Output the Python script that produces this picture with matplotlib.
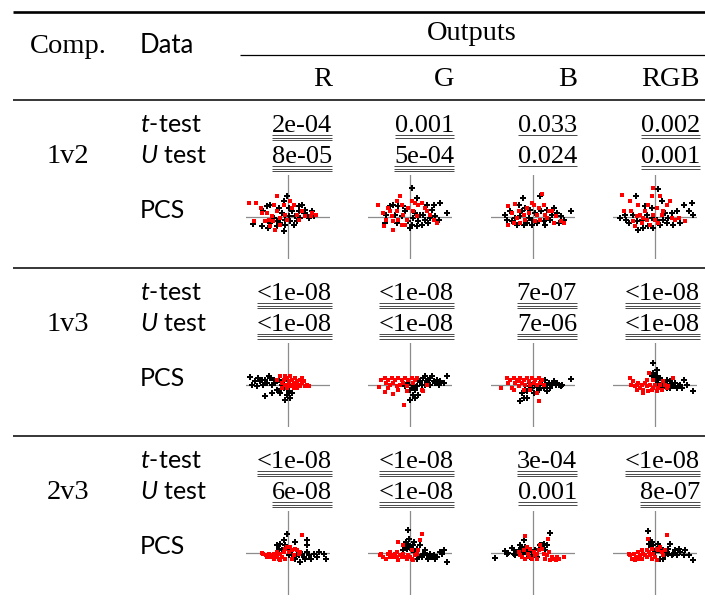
"""
Comparison table: t-test / U test p-values per colour channel, plus PCS scatter thumbnails.
"""

import matplotlib

matplotlib.use("Agg")
import matplotlib.pyplot as plt
import numpy as np
from matplotlib.lines import Line2D

plt.rcParams["mathtext.fontset"] = "custom"
plt.rcParams["mathtext.it"] = "Lato:italic"
plt.rcParams["mathtext.rm"] = "Lato"

W, H = 705, 601
SERIF = "Liberation Serif"
SANS = "Lato"

# ---- table content ----
comparisons = ["1v2", "1v3", "2v3"]
outputs = ["R", "G", "B", "RGB"]
data_labels = ["$t$-test", "$U$ test", "PCS"]

t_test = [
    ["2e-04", "0.001", "0.033", "0.002"],
    ["<1e-08", "<1e-08", "7e-07", "<1e-08"],
    ["<1e-08", "<1e-08", "3e-04", "<1e-08"],
]
u_test = [
    ["8e-05", "5e-04", "0.024", "0.001"],
    ["<1e-08", "<1e-08", "7e-06", "<1e-08"],
    ["6e-08", "<1e-08", "0.001", "8e-07"],
]
# number of underlines = significance level
t_level = [[3, 2, 1, 2], [3, 3, 3, 3], [3, 3, 3, 3]]
u_level = [[3, 3, 1, 2], [3, 3, 3, 3], [3, 3, 2, 3]]

# ---- PCS scatter points (first two components, class a = red, class b = black) ----
pcs_1v2_R_red = [(-115,42),(-95,42),(-33,62),(-80,27),(-101,-11),(-63,12),(-48,2),(-45,-13),(-55,-28),(-38,-38),
                 (-23,-3),(-8,7),(7,47),(17,37),(27,7),(42,17),(72,12),(82,7),(-68,-13),(-33,17),(-3,-8),(12,27),
                 (32,-8),(52,2),(-13,37),(-43,37),(67,2),(-78,12),(-58,-8),(-23,-23)]
pcs_1v2_R_blk = [(-105,-21),(-78,-28),(-73,17),(-63,32),(-53,37),(-28,27),(-13,47),(-3,62),(2,27),(12,17),(22,2),
                 (32,32),(42,37),(52,22),(57,7),(62,-3),(27,-13),(7,-13),(-8,-23),(-13,-43),(-23,-18),(-33,-13),
                 (-43,-3),(17,-23),(37,-3),(47,12),(72,17),(77,2),(2,2),(-18,12),(-53,-18),(-61,-33),(32,17),
                 (-8,-8),(-33,-28)]
pcs_1v2_G_red = [(-95,37),(-80,12),(-78,-28),(-65,27),(-55,2),(-50,-13),(-52,-38),(-40,17),(-35,-8),(-30,62),
                 (-25,37),(-20,7),(-15,-23),(-5,27),(5,47),(15,42),(25,37),(35,42),(45,27),(50,17),(60,7),(70,-8),
                 (80,-18),(-40,47),(-10,-8),(10,17),(-60,17),(-70,-8),(-25,-23),(20,2)]
pcs_1v2_G_blk = [(-75,-18),(-70,7),(-60,32),(-45,7),(-35,32),(-25,2),(-15,17),(-5,-13),(5,87),(5,-23),(10,-3),
                 (15,12),(20,57),(25,-13),(30,7),(35,-23),(45,-8),(50,37),(55,-18),(60,-3),(65,22),(70,37),(75,2),
                 (85,-8),(90,42),(110,12),(-20,32),(0,-33),(40,7),(-40,-18),(-50,37),(20,-28)]
pcs_1v2_B_red = [(-75,32),(-73,-23),(-63,12),(-53,39),(-48,-3),(-38,-18),(-28,7),(-18,27),(-3,42),(2,37),(12,7),
                 (17,27),(27,67),(32,37),(37,7),(47,17),(57,17),(67,2),(82,-13),(92,-18),(-23,-8),(-58,-18),
                 (-43,17),(7,-13),(22,-8),(42,-3),(-13,12),(62,-18)]
pcs_1v2_B_blk = [(-83,7),(-78,-8),(-68,17),(-63,-13),(-53,-3),(-43,37),(-38,2),(-33,17),(-31,57),(-23,27),
                 (-18,-18),(-13,-3),(-8,22),(-3,-23),(7,12),(12,-18),(22,62),(24,17),(32,-13),(42,22),(52,-8),
                 (57,7),(62,27),(72,12),(77,-18),(82,2),(92,-8),(112,19),(-48,-23),(-3,-8),(37,-23),(-28,-23)]
pcs_1v2_RGB_red = [(-97,65),(-93,17),(-75,47),(-70,17),(-65,-13),(-60,-28),(-50,37),(-45,7),(-40,-18),(-30,17),
                   (-25,-8),(-20,37),(-10,62),(-7,87),(-5,7),(0,-8),(10,-18),(15,62),(20,7),(25,17),(35,37),
                   (45,47),(50,-3),(60,-8),(70,-3),(90,-13),(-35,-3),(-55,2),(-15,-23),(5,27)]
pcs_1v2_RGB_blk = [(-105,-3),(-90,7),(-85,-8),(-77,-18),(-65,7),(-58,62),(-55,-13),(-50,-38),(-40,-8),(-35,-33),
                   (-25,7),(-20,-28),(-10,-3),(-5,-33),(5,-8),(10,82),(15,-23),(20,47),(25,-8),(30,12),(35,-18),
                   (40,-3),(50,12),(55,-23),(65,17),(75,-18),(85,37),(100,17),(110,42),(113,7),(-10,27),(-30,32)]

pcs_1v3_R_red = [(-33,16),(-23,26),(-18,6),(-13,16),(-8,1),(-3,21),(2,11),(7,26),(12,16),(17,6),(22,21),(27,11),
                 (32,1),(37,16),(42,6),(47,11),(52,-4),(57,1),(62,-4),(-3,-9),(7,-4),(17,-9),(27,-9),(-8,26),
                 (12,1),(37,-4),(2,1),(22,1),(-18,-9),(42,21)]
pcs_1v3_R_blk = [(-113,23),(-108,1),(-98,11),(-93,-2),(-83,11),(-78,16),(-68,16),(-63,6),(-58,26),(-53,21),
                 (-48,1),(-68,-32),(-43,16),(-38,6),(-33,-14),(-28,-19),(-23,-24),(-18,1),(-13,-9),(-8,-44),
                 (-3,-29),(2,-19),(7,-39),(12,-24),(-28,16),(-73,1),(-48,-24),(-13,11),(-88,21),(2,-4)]
pcs_1v3_G_red = [(-92,-6),(-85,16),(-75,21),(-75,-22),(-70,6),(-65,16),(-60,1),(-55,21),(-52,-26),(-50,6),
                 (-45,16),(-40,-4),(-35,21),(-30,1),(-25,16),(-20,6),(-18,-59),(-15,21),(-10,-4),(-5,16),(5,21),
                 (10,6),(15,16),(20,21),(35,-14),(40,-19),(50,1),(-35,-14),(-65,-9),(-10,-19)]
pcs_1v3_G_blk = [(-15,-4),(-10,6),(-5,1),(0,-14),(5,-9),(8,-29),(10,1),(15,-14),(20,-4),(25,16),(30,11),(35,1),
                 (40,21),(45,26),(50,11),(55,16),(60,21),(65,26),(70,11),(75,6),(80,16),(85,1),(90,11),(100,6),
                 (110,26),(15,-39),(0,-44),(25,-29),(60,1),(45,1)]
pcs_1v3_B_red = [(-96,-9),(-78,21),(-73,6),(-68,16),(-63,-9),(-58,21),(-53,6),(-48,16),(-43,-4),(-38,21),(-33,6),
                 (-28,16),(-23,1),(-18,21),(-13,11),(-8,1),(-3,21),(2,6),(7,16),(12,1),(17,21),(17,-47),(22,6),
                 (27,16),(32,1),(-28,-14),(12,-24),(-58,-14),(-8,-14),(-43,11)]
pcs_1v3_B_blk = [(-38,-49),(-33,-24),(-28,-39),(-23,-14),(-18,-19),(-13,-4),(-8,6),(-3,-9),(2,-24),(7,1),(12,-4),
                 (17,-14),(22,1),(27,11),(32,-9),(37,16),(42,-19),(47,6),(52,-9),(57,1),(62,11),(67,1),(72,6),
                 (77,1),(82,-4),(87,1),(112,19),(-18,-39),(42,1),(22,-9)]
pcs_1v3_RGB_red = [(-75,21),(-70,1),(-65,11),(-60,-4),(-55,1),(-50,6),(-45,-9),(-40,1),(-35,-14),(-30,6),(-25,-4),
                   (-20,-19),(-17,36),(-15,1),(-10,-14),(-7,16),(-5,-9),(0,1),(5,-19),(10,-9),(15,1),(20,-14),
                   (25,11),(30,1),(35,-9),(40,-4),(55,21),(-55,-14),(-25,16),(-35,-24)]
pcs_1v3_RGB_blk = [(-7,66),(-5,36),(-3,21),(0,31),(3,16),(5,46),(7,26),(10,6),(15,21),(20,16),(25,-4),(30,6),
                   (35,-9),(40,-4),(45,-9),(50,1),(55,-4),(60,6),(65,-9),(70,-4),(75,1),(85,16),(95,1),(113,-19),
                   (45,11),(20,-9),(-10,26),(35,16),(80,-9),(5,-4)]

pcs_2v3_R_red = [(-78,1),(-73,-2),(-65,-7),(-58,-2),(-53,-12),(-48,-7),(-43,-2),(-38,-12),(-33,-7),(-28,-17),
                 (-23,-2),(-18,-12),(-13,3),(-8,13),(-3,18),(2,3),(12,8),(17,-7),(22,13),(27,8),(32,-2),(37,3),
                 (42,53),(-43,-17),(-23,-22),(-8,-17),(12,-17),(7,18),(-63,-12),(-33,3)]
pcs_2v3_R_blk = [(-33,23),(-28,13),(-23,28),(-18,8),(-13,38),(-8,23),(-3,58),(-1,8),(2,-7),(7,13),(12,-2),
                 (17,-12),(22,-17),(27,-2),(32,-7),(37,-27),(42,-2),(47,-12),(52,-17),(57,38),(57,23),(57,3),
                 (62,-7),(67,-17),(77,-2),(87,-12),(92,3),(107,-2),(112,-17),(22,33)]
pcs_2v3_G_red = [(-90,-7),(-85,-2),(-80,-12),(-70,-17),(-65,-2),(-60,3),(-55,-7),(-50,-12),(-45,-2),(-40,3),
                 (-35,-22),(-35,33),(-30,-7),(-25,-12),(-20,-2),(-15,-12),(-10,-17),(-5,-7),(0,-12),(5,-17),
                 (10,-22),(15,-7),(20,-2),(25,8),(30,38),(35,58),(-40,-12),(-20,23),(-60,-12),(5,8)]
pcs_2v3_G_blk = [(-20,8),(-15,23),(-12,33),(-10,13),(-7,68),(-5,28),(-2,43),(0,18),(5,8),(10,23),(12,33),(15,3),
                 (20,13),(25,-7),(30,23),(35,-12),(40,-2),(45,8),(50,-7),(55,-17),(60,-2),(65,-12),(70,-7),
                 (75,-17),(80,-12),(88,3),(95,-2),(100,8),(110,-27),(20,-17)]
pcs_2v3_B_red = [(-43,3),(-38,-7),(-33,-12),(-28,8),(-25,51),(-23,-17),(-18,18),(-16,-2),(-13,-12),(-8,13),
                 (-3,-17),(2,3),(7,-7),(12,-17),(17,8),(22,23),(27,13),(32,-2),(37,-17),(42,-7),(44,41),(47,3),
                 (52,-22),(57,-12),(62,-17),(67,-22),(72,-12),(77,-17),(92,-12),(12,-2)]
pcs_2v3_B_blk = [(-113,-14),(-83,6),(-78,-2),(-73,1),(-63,16),(-58,-2),(-53,-7),(-48,3),(-43,8),(-38,-2),
                 (-33,13),(-28,3),(-23,18),(-18,-2),(-13,8),(-8,-12),(-3,3),(2,-7),(7,8),(12,-12),(17,13),
                 (22,25),(27,23),(32,28),(37,8),(42,23),(50,60),(-28,38),(-38,23),(-58,8)]
pcs_2v3_RGB_red = [(-77,-2),(-73,-7),(-67,-17),(-63,-2),(-57,-12),(-50,3),(-45,-7),(-40,-17),(-35,-2),(-30,-7),
                   (-25,-12),(-20,43),(-17,3),(-15,-7),(-10,-17),(-5,-2),(0,-12),(5,-22),(10,8),(15,18),(20,3),
                   (25,-7),(30,8),(35,53),(-60,-22),(-40,8),(-10,13),(5,13),(-50,-17),(-25,8)]
pcs_2v3_RGB_blk = [(-20,65),(-17,28),(-15,38),(-12,18),(-10,33),(-7,8),(-5,23),(0,3),(5,13),(10,8),(15,-17),
                   (20,3),(25,8),(30,-7),(35,3),(40,-2),(45,28),(50,-7),(55,-2),(60,8),(65,-7),(70,13),(75,3),
                   (85,-7),(90,8),(100,-7),(113,-20),(25,-17),(40,13),(10,28)]

pcs_red = [
    [pcs_1v2_R_red, pcs_1v2_G_red, pcs_1v2_B_red, pcs_1v2_RGB_red],
    [pcs_1v3_R_red, pcs_1v3_G_red, pcs_1v3_B_red, pcs_1v3_RGB_red],
    [pcs_2v3_R_red, pcs_2v3_G_red, pcs_2v3_B_red, pcs_2v3_RGB_red],
]
pcs_blk = [
    [pcs_1v2_R_blk, pcs_1v2_G_blk, pcs_1v2_B_blk, pcs_1v2_RGB_blk],
    [pcs_1v3_R_blk, pcs_1v3_G_blk, pcs_1v3_B_blk, pcs_1v3_RGB_blk],
    [pcs_2v3_R_blk, pcs_2v3_G_blk, pcs_2v3_B_blk, pcs_2v3_RGB_blk],
]

# ---- layout (pixels from top-left) ----
col_right = [332, 454, 577, 700]
col_center = [288, 410, 533, 655]
ROW_STEP = 168
FS = 19
FS_HEAD = 20.5


def fx(x):
    return x / W


def fy(y):
    return 1 - y / H


def hline(fig, x0, x1, y, lw):
    fig.add_artist(Line2D([fx(x0), fx(x1)], [fy(y), fy(y)], color="black", lw=lw,
                          transform=fig.transFigure, solid_capstyle="butt"))


fig = plt.figure(figsize=(W / 100, H / 100), dpi=100)
renderer = fig.canvas.get_renderer()

# rules
hline(fig, 13, 705, 12, 1.9)
hline(fig, 240, 705, 55, 0.9)
for k in range(3):
    hline(fig, 13, 705, 100 + ROW_STEP * k, 1.1)

# header
fig.text(fx(68), fy(53), "Comp.", family=SERIF, fontsize=FS_HEAD, ha="center", va="baseline")
fig.text(fx(140), fy(53), "Data", family=SANS, fontsize=FS - 0.5, ha="left", va="baseline")
fig.text(fx(472), fy(40), "Outputs", family=SERIF, fontsize=FS_HEAD, ha="center", va="baseline")
for name, xr in zip(outputs, col_right):
    fig.text(fx(xr), fy(86), name, family=SERIF, fontsize=FS_HEAD, ha="right", va="baseline")


def value_cell(txt, xr, base, level):
    t = fig.text(fx(xr), fy(base), txt, family=SERIF, fontsize=FS, ha="right", va="baseline")
    width = t.get_window_extent(renderer).width
    for i in range(level):
        yy = base + 3.0 + 2.5 * i
        hline(fig, xr - width, xr, yy, 0.5)


for k, comp in enumerate(comparisons):
    off = ROW_STEP * k
    fig.text(fx(68), fy(163 + off), comp, family=SERIF, fontsize=FS_HEAD, ha="center", va="baseline")
    for lab, base in zip(data_labels, [132, 163, 218]):
        fig.text(fx(140), fy(base + off), lab, family=SANS, fontsize=FS - 1, ha="left", va="baseline")
    for j in range(4):
        value_cell(t_test[k][j], col_right[j], 132 + off, t_level[k][j])
        value_cell(u_test[k][j], col_right[j], 163 + off, u_level[k][j])

        cx, cy = col_center[j], 217 + off
        ax = fig.add_axes([fx(cx - 42), fy(cy + 42), 84 / W, 84 / H])
        ax.set_xlim(-125, 125)
        ax.set_ylim(-125, 125)
        ax.axis("off")
        ax.axhline(0, color="#8c8c8c", lw=0.9, zorder=1)
        ax.axvline(0, color="#8c8c8c", lw=0.9, zorder=1)
        blk = np.array(pcs_blk[k][j])
        red = np.array(pcs_red[k][j])
        ax.scatter(blk[:, 0], blk[:, 1], marker="P", s=13, color="black", linewidths=0, zorder=2)
        ax.scatter(red[:, 0], red[:, 1], marker="s", s=9, color="red", linewidths=0, zorder=3)

fig.savefig("out.png", dpi=100)
